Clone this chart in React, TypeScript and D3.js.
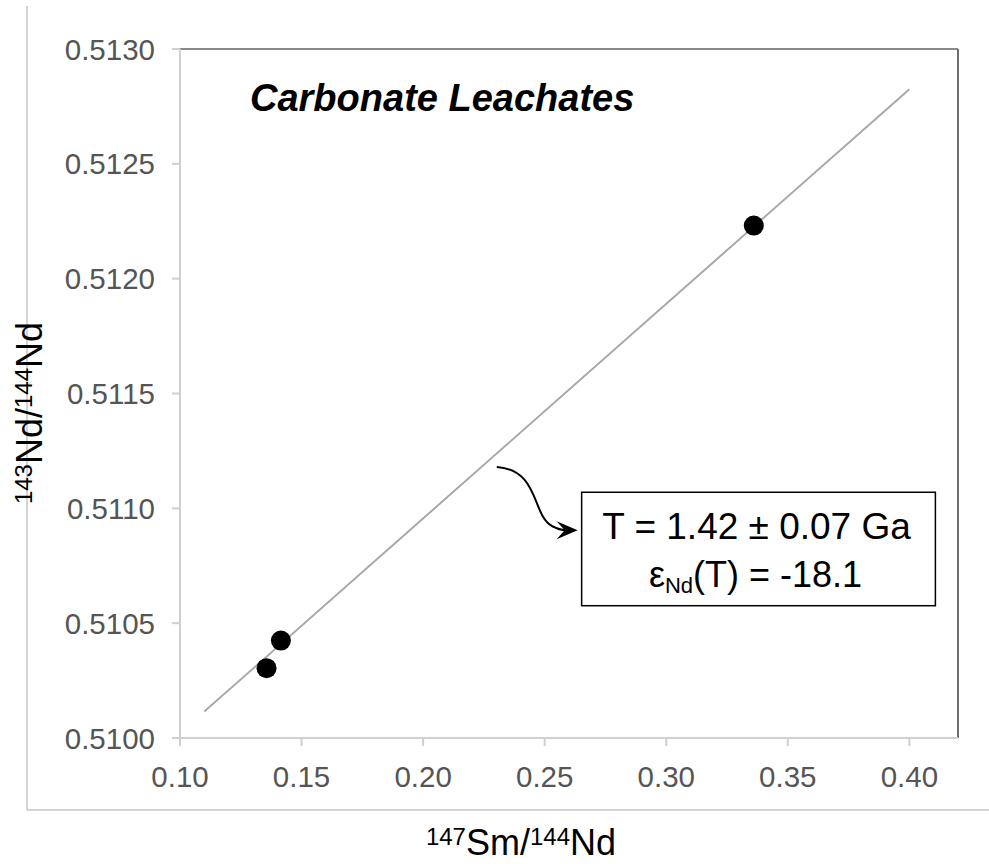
import React from "react";
import * as d3 from "d3";

// ---- data ----
const sampleX = [0.1356, 0.1415, 0.336];
const sampleY = [0.510304, 0.510424, 0.512231];
const isochronX = [0.11, 0.4];
const isochronY = [0.510115, 0.512825];
const xTicks = [0.1, 0.15, 0.2, 0.25, 0.3, 0.35, 0.4];
const yTicks = [0.51, 0.5105, 0.511, 0.5115, 0.512, 0.5125, 0.513];
const titleText = "Carbonate Leachates";
const ageText = "T = 1.42 ± 0.07 Ga";
const epsText = "(T) = -18.1";

const FONT = "'Liberation Sans', Arial, Helvetica, sans-serif";

export default function App() {
  const W = 989;
  const H = 864;
  const left = 180, right = 958, top = 49, bottom = 738;
  const x = d3.scaleLinear().domain([0.1, 0.42]).range([left, right]);
  const y = d3.scaleLinear().domain([0.51, 0.513]).range([bottom, top]);
  const fx = d3.format(".2f");
  const fy = d3.format(".4f");

  const pts = sampleX.map((v, i) => ({ x: v, y: sampleY[i] }));
  const line = d3
    .line<number>()
    .x((d, i) => x(isochronX[i]))
    .y((d) => y(d));

  // annotation box (data coordinates)
  const boxL = x(0.2652), boxR = x(0.4107);
  const boxT = y(0.51107), boxB = y(0.510576);
  const boxCx = (boxL + boxR) / 2;
  const tipX = boxL - 4, tipY = boxT + 38;
  const startX = x(0.2303), startY = y(0.51118);

  return (
    <svg
      width={W}
      height={H}
      style={{ position: "absolute", left: 0, top: 0, background: "#fff" }}
      fontFamily={FONT}
    >
      {/* outer frame */}
      <line x1={27} y1={6} x2={27} y2={810} stroke="#c4c4c4" strokeWidth={1.5} />
      <line x1={27} y1={810} x2={W} y2={810} stroke="#c4c4c4" strokeWidth={1.5} />

      {/* plot frame */}
      <line x1={left} y1={top} x2={right} y2={top} stroke="#8a8a8a" strokeWidth={2} />
      <line x1={right} y1={top} x2={right} y2={bottom} stroke="#6e6e6e" strokeWidth={2} />
      <line x1={left} y1={top} x2={left} y2={bottom} stroke="#d0d0d0" strokeWidth={2} />
      <line x1={left} y1={bottom} x2={right} y2={bottom} stroke="#d0d0d0" strokeWidth={2} />

      {/* y ticks */}
      {yTicks.map((t) => (
        <g key={"y" + t}>
          <line x1={left - 8} x2={left} y1={y(t)} y2={y(t)} stroke="#cfcfcf" strokeWidth={2} />
          <text
            x={155}
            y={y(t)}
            dy="0.36em"
            textAnchor="end"
            fontSize={29.5}
            fill="#555"
          >
            {fy(t)}
          </text>
        </g>
      ))}

      {/* x ticks */}
      {xTicks.map((t) => (
        <g key={"x" + t}>
          <line x1={x(t)} x2={x(t)} y1={bottom} y2={bottom + 8} stroke="#cfcfcf" strokeWidth={2} />
          <text x={x(t)} y={787} textAnchor="middle" fontSize={29.5} fill="#555">
            {fx(t)}
          </text>
        </g>
      ))}

      {/* isochron line */}
      <path d={line(isochronY) || ""} fill="none" stroke="#a8a8a8" strokeWidth={2} />

      {/* points */}
      {pts.map((p, i) => (
        <circle key={i} cx={x(p.x)} cy={y(p.y)} r={10} fill="#000" />
      ))}

      {/* title */}
      <text x={250} y={111} fontSize={38} fontWeight="bold" fontStyle="italic" fill="#000">
        {titleText}
      </text>

      {/* annotation arrow */}
      <path
        d={`M${startX},${startY} C${startX + 43},${startY + 3} ${startX + 35},${startY + 48} ${startX + 55},${startY + 59} Q${startX + 63},${startY + 63} ${tipX - 12},${tipY}`}
        fill="none"
        stroke="#000"
        strokeWidth={2}
      />
      <path
        d={`M${tipX},${tipY} L${tipX - 21},${tipY - 9} L${tipX - 13},${tipY} L${tipX - 21},${tipY + 9} Z`}
        fill="#000"
      />

      {/* annotation box */}
      <rect
        x={boxL}
        y={boxT}
        width={boxR - boxL}
        height={boxB - boxT}
        fill="#fff"
        stroke="#000"
        strokeWidth={1.5}
      />
      <text x={boxCx - 2} y={boxT + 47} textAnchor="middle" fontSize={37} fill="#000">
        {ageText}
      </text>
      <text x={boxCx - 3} y={boxT + 95} textAnchor="middle" fontSize={36} fill="#000">
        ε
        <tspan fontSize={22} dy={6}>
          Nd
        </tspan>
        <tspan dy={-6}>{epsText}</tspan>
      </text>

      {/* x axis title */}
      <text x={521} y={855} textAnchor="middle" fontSize={36} fill="#000">
        <tspan fontSize={24} dy={-10}>147</tspan>
        <tspan dy={10}>Sm/</tspan>
        <tspan fontSize={24} dy={-10}>144</tspan>
        <tspan dy={10}>Nd</tspan>
      </text>

      {/* y axis title */}
      <text
        transform={`translate(42,413) rotate(-90)`}
        textAnchor="middle"
        fontSize={36}
        fill="#000"
      >
        <tspan fontSize={24} dy={-10}>143</tspan>
        <tspan dy={10}>Nd/</tspan>
        <tspan fontSize={24} dy={-10}>144</tspan>
        <tspan dy={10}>Nd</tspan>
      </text>
    </svg>
  );
}
